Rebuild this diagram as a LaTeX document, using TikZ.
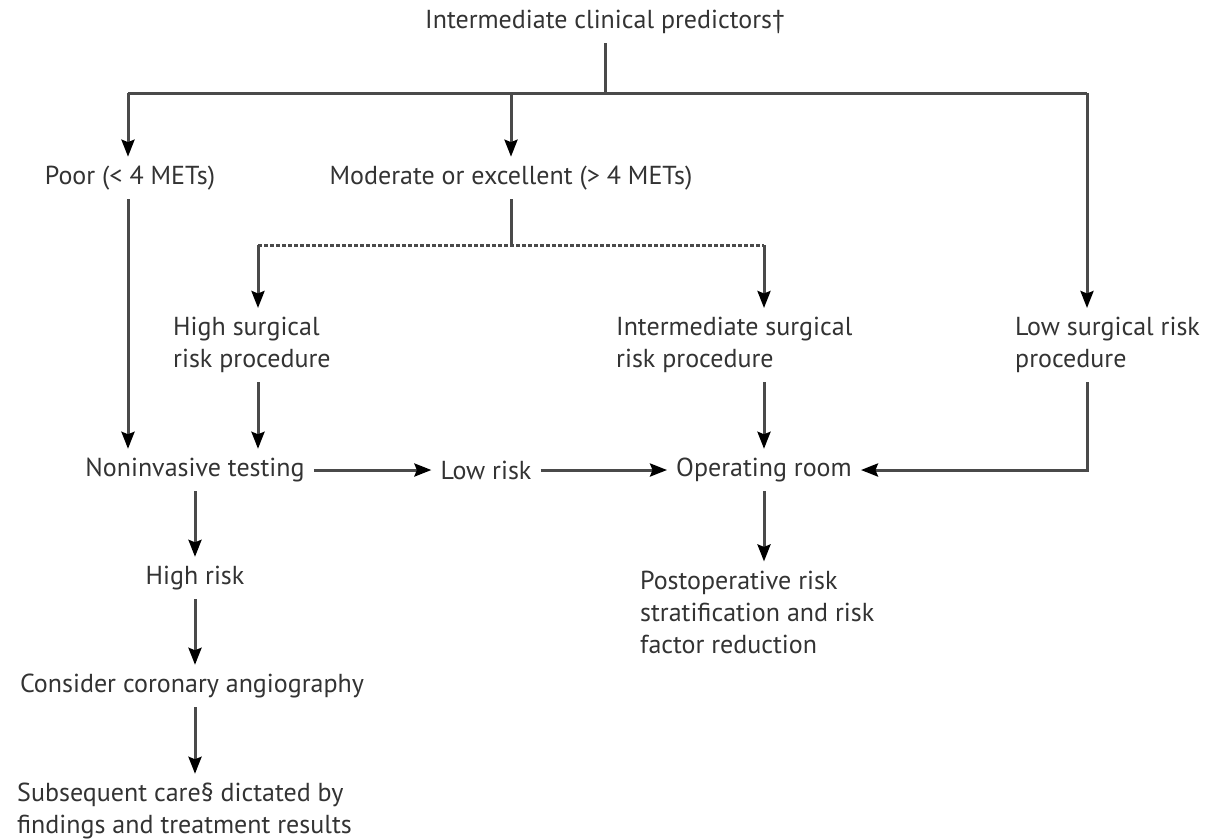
\documentclass[tikz,border=0pt]{standalone}
\usepackage{fontspec}
\setmainfont{PT Sans}
\usetikzlibrary{arrows.meta}
\definecolor{lncol}{HTML}{4A4A4A}
\definecolor{txcol}{HTML}{333333}
\begin{document}
\begin{tikzpicture}[x=1pt,y=-1pt,
  txt/.style={font=\fontsize{26}{32}\selectfont, text=txcol, inner xsep=9pt, inner ysep=9pt},
  ln/.style={draw=lncol, line width=3pt},
  arr/.style={ln, -{Stealth[length=17pt,width=13pt,inset=2.5pt,color=black,fill=black]}},
  dline/.style={ln, dash pattern=on 4pt off 2pt}
]
\useasboundingbox (0,0) rectangle (1218,839);

\node[txt] (title) at (605,22) {Intermediate clinical predictors†};
\node[txt] (poor) at (130,178) {Poor (< 4 METs)};
\node[txt] (mod) at (511,178) {Moderate or excellent (> 4 METs)};
\node[txt, align=left, anchor=west] (high) at (164,345) {High surgical\\risk procedure};
\node[txt, align=left, anchor=west] (inter) at (607,345) {Intermediate surgical\\risk procedure};
\node[txt, align=left, anchor=west] (lows) at (1006,345) {Low surgical risk\\procedure};
\node[txt] (nonin) at (195,470) {Noninvasive testing};
\node[txt] (lowr) at (486,470) {Low risk};
\node[txt] (or) at (764,470) {Operating room};
\node[txt] (highr) at (195,578) {High risk};
\node[txt] (cons) at (192,686) {Consider coronary angiography};
\node[txt, align=left, anchor=west] (subs) at (8,811) {Subsequent care§ dictated by\\findings and treatment results};
\node[txt, align=left, anchor=west] (post) at (631,612) {Postoperative risk\\stratification and risk\\factor reduction};

\coordinate (j1) at (605,93);
\coordinate (lsx) at (1087,93);
\coordinate (j2) at (511,245);
\coordinate (hx) at (258,245);
\coordinate (ix) at (764,245);
\coordinate (px) at (128,93);

\draw[ln] (title.south) -- (j1);
\draw[ln] (px) -- (lsx);
\draw[arr] (px) -- (px |- poor.north);
\draw[arr] (mod.north |- j1) -- (mod.north);
\draw[arr] (lsx) -- (lsx |- lows.north);

\draw[ln] (mod.south) -- (j2);
\draw[dline] (hx) -- (ix);
\draw[arr] (hx) -- (hx |- high.north);
\draw[arr] (ix) -- (ix |- inter.north);

\draw[arr] (px |- poor.south) -- (px |- nonin.north);
\draw[arr] (hx |- high.south) -- (hx |- nonin.north);
\draw[arr] (ix |- inter.south) -- (ix |- or.north);
\draw[arr] (lsx |- lows.south) -- (lsx |- or.east) -- (or.east);

\draw[arr] (nonin.east) -- (lowr.west);
\draw[arr] (lowr.east) -- (or.west);

\draw[arr] (nonin.south) -- (nonin.south |- highr.north);
\draw[arr] (highr.south) -- (highr.south |- cons.north);
\draw[arr] (highr.south |- cons.south) -- (highr.south |- subs.north);
\draw[arr] (or.south) -- (or.south |- post.north);
\end{tikzpicture}
\end{document}
